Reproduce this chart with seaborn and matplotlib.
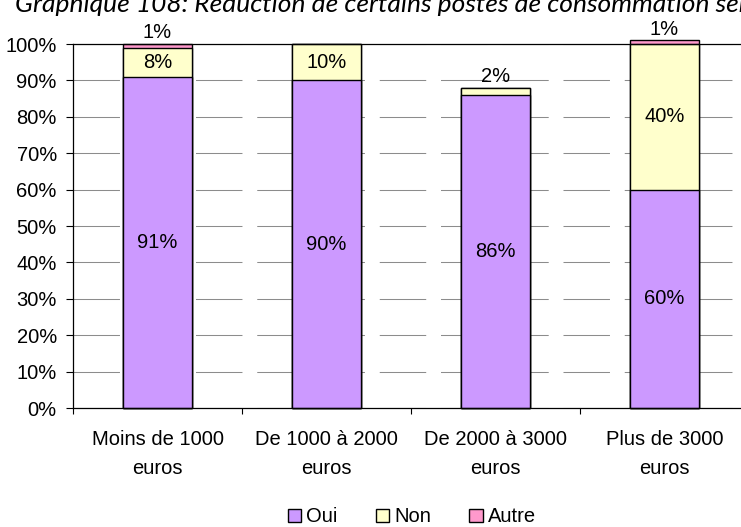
import matplotlib
matplotlib.use("Agg")
import matplotlib.pyplot as plt
from matplotlib.patches import Patch
import pandas as pd
import seaborn as sns

# Income brackets and answer shares (percent)
categories = ["Moins de 1000\neuros", "De 1000 à 2000\neuros",
              "De 2000 à 3000\neuros", "Plus de 3000\neuros"]
oui = [91, 90, 86, 60]
non = [8, 10, 2, 40]
autre = [1, 0, 0, 1]
series_names = ["Oui", "Non", "Autre"]
yticks = list(range(0, 101, 10))

title = "Graphique 108: Réduction de certains postes de consommation selon le revenu"

colors = {"Oui": "#CC99FF", "Non": "#FFFFCC", "Autre": "#FF99CC"}

df = pd.DataFrame({"tranche": categories, "Oui": oui, "Non": non, "Autre": autre})
df["top_non"] = df["Oui"] + df["Non"]
df["top_autre"] = df["top_non"] + df["Autre"]

sns.set_theme(style="ticks")
plt.rcParams["font.family"] = ["Liberation Sans", "DejaVu Sans"]
plt.rcParams["text.color"] = "black"
plt.rcParams["axes.edgecolor"] = "black"

FS = 14.5
W, H = 741, 527
fig = plt.figure(figsize=(W / 100, H / 100), dpi=100)
ax = fig.add_axes([73 / W, 1 - 408 / H, 676 / W, 364 / H])

# Stacked columns: draw cumulative tops from the highest series down
for col, name in [("top_autre", "Autre"), ("top_non", "Non"), ("Oui", "Oui")]:
    sns.barplot(data=df, x="tranche", y=col, color=colors[name], saturation=1,
                width=0.41, edgecolor="black", linewidth=1.0, errorbar=None,
                ax=ax, zorder=2)
for p in ax.patches:
    p.set_clip_on(False)

ax.set_xlabel("")
ax.set_ylabel("")
ax.set_xlim(-0.5, len(categories) - 0.5)
ax.set_ylim(0, 100)
ax.set_yticks(yticks)
ax.set_yticklabels([f"{v}%" for v in yticks])

# Dashed grey gridlines behind the bars
ax.set_axisbelow(True)
ax.yaxis.grid(True, color="#8c8c8c", linewidth=0.75,
              linestyle=(0, (44.6, 14.2)))
ax.xaxis.grid(False)

for side in ["left", "bottom", "top", "right"]:
    ax.spines[side].set_visible(True)
    ax.spines[side].set_color("black")
    ax.spines[side].set_linewidth(0.9)

ax.tick_params(axis="y", which="major", length=4.7, width=0.8, direction="out",
               pad=7, labelsize=FS, colors="black")
ax.set_xticks([i - 0.5 for i in range(len(categories) + 1)], minor=True)
ax.tick_params(axis="x", which="minor", length=4.5, width=0.8, direction="out",
               colors="black")
ax.tick_params(axis="x", which="major", length=0, pad=16, labelsize=FS,
               labelcolor="black")
for lbl in ax.get_xticklabels():
    lbl.set_linespacing(1.65)

# Value labels
for i in range(len(categories)):
    ax.text(i, oui[i] / 2, f"{oui[i]}%", ha="center", va="center", fontsize=FS,
            zorder=5)
    top = oui[i] + non[i]
    if non[i] >= 3:
        ax.text(i, oui[i] + non[i] / 2, f"{non[i]}%", ha="center", va="center",
                fontsize=FS, zorder=5)
    elif non[i] > 0:
        ax.annotate(f"{non[i]}%", (i, top), xytext=(0, 8), textcoords="offset points",
                    ha="center", va="center", fontsize=FS, annotation_clip=False)
    if autre[i] > 0:
        ax.annotate(f"{autre[i]}%", (i, top + autre[i]), xytext=(0, 8),
                    textcoords="offset points", ha="center", va="center",
                    fontsize=FS, annotation_clip=False)

fig.text(15 / W, 1 - 12 / H, title, fontsize=19, style="italic",
         family=["Lato", "DejaVu Sans"], va="baseline", ha="left")

handles = [Patch(facecolor=colors[n], edgecolor="black", linewidth=1.0)
           for n in series_names]
fig.legend(handles, series_names, loc="center", bbox_to_anchor=(412 / W, 10 / H),
           ncol=3, frameon=False, fontsize=FS, handlelength=0.65,
           handleheight=0.65, handletextpad=0.26, columnspacing=1.9,
           borderpad=0)

fig.savefig("out.png", dpi=100)
